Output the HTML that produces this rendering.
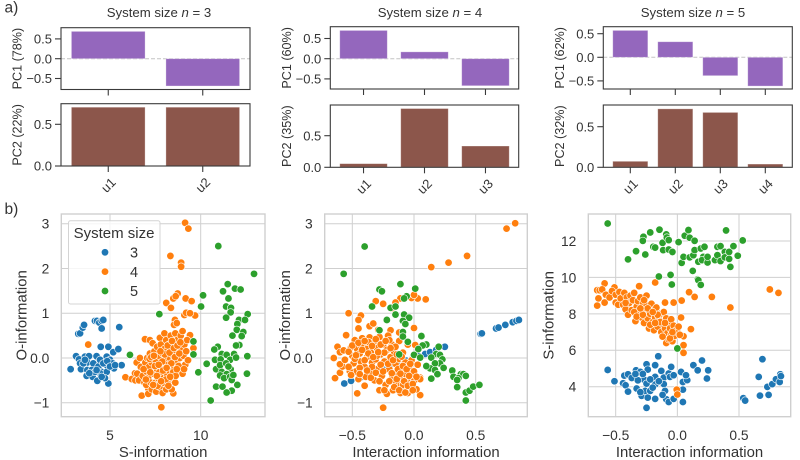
<!DOCTYPE html>
<html>
<head>
<meta charset="utf-8">
<title>System size PCA and information scatter plots</title>
<style>
html,body{margin:0;padding:0;background:#fff;}
#figure{display:block;width:800px;height:460px;font-family:"Liberation Sans",Arial,sans-serif;}
text{fill:#333;font-family:"Liberation Sans",Arial,sans-serif;}
</style>
</head>
<body>
<svg id="figure" xmlns="http://www.w3.org/2000/svg" width="800" height="460" viewBox="0 0 800 460"></svg>
<script>
// ---------- Bar chart data ----------
const n3Units = ["u1", "u2"];
const n3PC1 = [0.69, -0.69];
const n3PC2 = [0.705, 0.705];
const n4Units = ["u1", "u2", "u3"];
const n4PC1 = [0.70, 0.17, -0.67];
const n4PC2 = [0.058, 0.93, 0.337];
const n5Units = ["u1", "u2", "u3", "u4"];
const n5PC1 = [0.57, 0.33, -0.39, -0.61];
const n5PC2 = [0.074, 0.72, 0.676, 0.04];
const pc1TickValues = [-0.5, 0, 0.5];
const n3PC2Ticks = [0, 0.5];
const n4PC2Ticks = [0, 0.5];
const n5PC2Ticks = [0, 0.5];

// ---------- Scatter data: [x, y] ----------
const sTicks = [5, 10];
const oTicks = [-1, 0, 1, 2, 3];
const iTicks = [-0.5, 0, 0.5];
const siTicks = [4, 6, 8, 10, 12];
const legendSizes = [3, 4, 5];

const soBlue = [[3.25,.54],[3.35,.55],[3.5,.68],[3.57,.74],[4.17,.83],[4.28,.83],[4.41,.79],[4.54,.83],[4.63,.85],[4.54,.66],[5.51,.69],[2.83,-.25],[3.13,.04],[3.29,-.03],[3.35,-.12],[3.4,-.25],[3.62,.03],[3.75,-.1],[3.75,-.27],[3.71,-.4],[3.84,.04],[4.04,-.42],[4.08,-.12],[4.26,.04],[4.3,-.51],[4.36,-.19],[4.45,-.04],[4.49,.25],[4.54,-.31],[4.63,-.38],[4.82,.03],[4.91,.25],[4.82,-.31],[4.91,-.57],[4.82,-.16],[5.18,.13],[5.22,-.23],[5.46,.2],[5.64,-.16],[4.45,-.34],[3.99,-.27],[4.17,-.31],[5,-.04],[4.63,-.12],[5.15,-.12],[4.85,-.07],[4.26,-.27],[3.53,-.12],[3.86,-.34],[5,-.19],[4.72,-.45],[4.54,-.42],[3.62,-.04],[5.28,-.16]];
const soOrange = [[3.8,.3],[9.14,3.02],[9.32,2.89],[8.33,2.28],[8.92,2.13],[8.92,2.04],[8.1,1.23],[8.49,1.33],[8.36,1.12],[8.73,1.44],[8.62,1.38],[9.17,1.33],[9.5,1.27],[9.1,.96],[9.2,1.01],[9.69,.95],[9.41,1],[8.58,.85],[8.53,.74],[8.68,.78],[9.41,.51],[9.6,.22],[5.85,-.43],[6.2,-.47],[6.38,-.34],[6.47,-.1],[6.65,0],[6.75,-.84],[6.93,.42],[7.2,.4],[7.83,-1.1],[8.49,-.79],[7.7,-.72],[7.11,-.68],[7.11,-.8],[6.4,-.5],[6.5,-.35],[6.6,-.5],[6.7,-.2],[6.8,-.4],[6.9,-.55],[6.95,-.1],[7,-.3],[7,-.6],[7.05,0],[7.1,-.45],[7.15,-.2],[7.2,.1],[7.25,-.55],[7.3,-.7],[7.3,-.1],[7.35,.33],[7.4,-.35],[7.45,.15],[7.5,-.55],[7.5,-.05],[7.55,-.75],[7.6,-.25],[7.6,.25],[7.65,-.45],[7.7,.05],[7.75,-.65],[7.75,.45],[7.8,-.15],[7.8,.3],[7.85,-.4],[7.9,.1],[7.9,-.78],[7.95,-.55],[8,-.25],[8,.2],[8,.55],[8.05,-.05],[8.1,-.7],[8.1,.4],[8.15,-.4],[8.15,.15],[8.2,-.15],[8.25,.3],[8.25,-.55],[8.3,0],[8.3,-.3],[8.35,.5],[8.4,.2],[8.4,-.7],[8.45,-.45],[8.5,.05],[8.5,.35],[8.55,-.2],[8.6,.55],[8.6,-.55],[8.65,.15],[8.7,-.1],[8.7,.4],[8.75,-.35],[8.8,.25],[8.85,0],[8.9,.5],[8.9,-.2],[8.95,.2],[9,-.35],[9,.6],[9.05,.05],[9.1,.3],[9.15,-.15],[9.2,.15],[9.25,.4],[9.3,-.05],[7.22,-.32],[7.48,-.18],[7.62,-.62],[7.72,-.32],[7.88,-.08],[7.92,-.28],[8.02,.08],[8.08,-.48],[8.18,.28],[8.22,-.62],[8.28,.12],[8.38,-.12],[8.42,.38],[8.48,-.32],[8.52,.22],[8.58,.02],[8.62,-.4],[8.72,.28],[8.78,-.18],[8.82,.1],[8.88,.35],[6.85,-.25],[6.98,-.48],[7.18,-.02],[7.28,.02],[7.38,-.6],[7.42,.05],[7.58,-.4],[7.68,-.15],[7.78,.15],[7.82,-.52],[8.12,-.22],[8.32,-.42],[8.68,-.25],[9.08,-.25]];
const soGreen = [[10.97,2.5],[12.94,1.88],[11.49,1.65],[11.89,1.55],[12.2,1.53],[11.23,1.49],[11.53,1.33],[10.13,1.4],[10.02,1.15],[7.72,.98],[11.4,1.15],[11.67,1.12],[11.65,1.02],[11.4,.9],[12.59,.98],[12.11,.85],[12.44,.85],[12.02,.76],[11.99,.63],[12.35,.58],[11.75,.5],[12.26,.49],[12.13,.29],[11.95,.28],[9.6,.37],[10.94,.25],[10.75,.19],[9.6,.08],[6.1,.07],[12.57,.04],[11.84,.09],[10.33,-.13],[10.79,-.04],[11.16,.09],[11.43,.07],[11.1,-.03],[11.62,-.04],[11.95,.01],[9.87,-.32],[10.85,-.25],[11.07,-.16],[11.4,-.12],[11.65,-.25],[11.16,-.31],[11.43,-.36],[11.07,-.39],[11.29,-.45],[11.62,-.42],[11.71,-.49],[12.55,-.35],[10.85,-.64],[11.2,-.64],[12.02,-.6],[11.71,-.73],[11.43,-.77],[10.55,-.95],[11.53,-.19],[11.8,-.38]];

const ioBlue = [[-.565,-.57],[-.51,-.51],[-.42,-.42],[-.38,-.4],[-.34,-.36],[-.3,-.31],[-.25,-.26],[-.2,-.2],[-.12,-.12],[-.06,-.06],[-.02,-.03],[.04,.04],[.09,.09],[.13,.13],[.18,.18],[.25,.25],[.54,.54],[.55,.55],[.665,.66],[.685,.68],[.74,.74],[.8,.8],[.83,.83],[.85,.85]];
const ioOrange = [[.82,3.01],[.75,2.89],[.43,2.28],[.28,2.13],[.14,2.03],[.095,1.31],[.03,1.33],[-.02,1.34],[0,1.41],[-.11,1.33],[-.15,1.24],[-.25,1.21],[-.31,1.27],[-.18,1.11],[-.53,1],[-.43,.95],[-.45,.85],[-.45,.66],[-.36,.71],[-.33,.77],[-.29,.63],[-.19,.62],[-.12,.57],[0,.67],[-.55,.51],[-.62,.25],[-.65,0],[-.64,-.45],[-.6,-.33],[-.58,-.19],[-.46,-.79],[-.25,-1.11],[.05,-.83],[.1,-.18],[-.6,.13],[-.57,.17],[-.6,-.14],[-.51,.24],[-.5,.05],[-.49,-.12],[-.48,.4],[-.47,-.3],[-.46,.2],[-.45,-.47],[-.44,.1],[-.43,-.08],[-.42,.44],[-.41,.3],[-.4,-.2],[-.4,-.62],[-.38,.02],[-.38,.2],[-.36,-.33],[-.36,.46],[-.35,.12],[-.34,-.1],[-.33,.34],[-.32,-.5],[-.31,-.03],[-.3,.22],[-.29,-.24],[-.28,.47],[-.28,-.72],[-.27,.08],[-.26,-.4],[-.25,.3],[-.24,-.08],[-.23,-.6],[-.22,.18],[-.22,-.8],[-.21,.5],[-.2,-.25],[-.19,.02],[-.18,-.46],[-.18,.3],[-.17,-.72],[-.16,.14],[-.15,-.13],[-.14,-.35],[-.13,-.6],[-.12,.38],[-.12,-.02],[-.11,-.78],[-.1,-.25],[-.1,-.47],[-.09,.12],[-.08,-.12],[-.08,-.68],[-.07,-.36],[-.06,-.55],[-.05,.3],[-.05,-.78],[-.04,-.24],[-.03,-.44],[-.02,-.66],[-.02,-.05],[0,-.3],[0,-.52],[.01,.29],[.02,-.7],[.03,-.15],[.05,-.44],[.05,-.47],[-.44,-.22],[-.37,.36],[-.34,-.2],[-.3,.05],[-.27,-.15],[-.24,.12],[-.2,.4],[-.16,-.55],[-.13,-.25],[-.09,-.6],[-.15,.25],[-.52,-.3],[-.48,-.02],[-.43,.28],[-.39,-.42],[-.07,-.1],[-.53,.14],[-.5,.28],[-.47,.06],[-.45,.34],[-.44,-.36],[-.42,.18],[-.4,.38],[-.4,-.05],[-.38,-.28],[-.37,.1],[-.35,-.44],[-.34,.27],[-.33,.02],[-.31,.42],[-.31,-.33],[-.29,.13],[-.28,-.52],[-.27,.3],[-.25,-.3],[-.24,-.72],[-.23,.38],[-.21,-.13],[-.2,-.52],[-.19,.22],[-.18,-.34],[-.17,-.05],[-.16,-.65],[-.14,.08],[-.14,-.47],[-.12,-.72],[-.11,-.35],[-.1,.03],[-.09,-.18],[-.08,-.52],[-.07,-.77],[-.06,-.25],[-.05,-.62],[-.04,-.4],[-.03,-.13],[-.01,-.58],[-.01,-.72],[.02,-.42],[-.56,-.04],[-.53,-.2],[-.51,-.38]];
const ioGreen = [[-.4,2.49],[-.57,1.88],[-.11,1.65],[.01,1.55],[-.28,1.53],[-.26,1.49],[-.06,1.38],[-.08,1.33],[-.34,1.15],[-.19,1.12],[-.15,1.15],[-.15,.97],[-.22,.85],[-.08,.97],[-.04,.9],[-.09,.83],[-.07,.76],[-.28,.62],[-.09,.58],[-.09,.48],[-.05,.36],[.06,.49],[.1,.3],[.07,.28],[.035,.2],[.2,.25],[-.12,.08],[0,.07],[.05,.01],[.18,.09],[.21,.07],[.14,.01],[.23,-.03],[.21,-.12],[.17,-.12],[.24,-.22],[.13,-.23],[.17,-.27],[.19,-.36],[.14,-.46],[.31,-.28],[.32,-.42],[.38,-.36],[.4,-.36],[.42,-.4],[.36,-.45],[.35,-.49],[.35,-.65],[.42,-.77],[.45,-.73],[.48,-.64],[.53,-.6],[.42,-.95],[.1,-.18]];

const isBlue = [[-.565,4.92],[-.51,4.3],[-.43,4.61],[-.4,4.68],[-.44,4.19],[-.42,4.08],[-.4,3.73],[-.37,4.48],[-.33,3.9],[-.335,4.9],[-.3,4.81],[-.29,3.5],[-.25,5.23],[-.24,4.94],[-.27,4.39],[-.26,3.77],[-.24,3.4],[-.25,2.84],[-.22,3.77],[-.25,4.17],[-.18,5.18],[-.18,4.54],[-.18,4.12],[-.18,3.33],[-.155,5.67],[-.13,4.87],[-.11,4.5],[-.11,4.14],[-.1,3.77],[-.09,3.31],[-.07,4.72],[-.06,4.54],[-.05,5.09],[-.07,3.16],[-.03,4.63],[-.03,3.33],[.03,4.81],[.045,3.16],[.045,3.84],[.045,4.26],[.08,4.36],[.07,4.63],[.13,5.18],[.165,4.9],[.2,5.44],[.25,4.9],[.24,4.45],[.535,3.37],[.55,3.24],[.69,5.51],[.66,4.54],[.67,3.51],[.73,3.99],[.74,3.55],[.77,4.14],[.8,4.41],[.83,4.26],[.835,4.68],[.84,4.58],[-.32,4.35],[-.3,3.7],[-.28,4.7],[-.22,4.4],[-.2,3.95],[-.34,4.7],[-.15,4.3],[-.12,3.55]];
const isOrange = [[.75,9.34],[.82,9.15],[.43,8.35],[.28,8.93],[.14,8.93],[.095,9.19],[.035,8.73],[-.03,8.62],[-.1,8.62],[-.18,9.72],[.11,7.16],[.05,6.77],[.05,6.28],[.05,5.86],[.03,7.8],[-.005,3.84],[0,3.57],[-.59,9.67],[-.31,9.52],[-.51,9.45],[-.65,9.3],[-.63,9.3],[-.61,9.34],[-.64,8.85],[-.65,8.45],[-.59,8.62],[-.58,9.05],[-.55,8.9],[-.53,9.25],[-.5,8.62],[-.5,9.05],[-.48,8.5],[-.47,9.2],[-.46,8.85],[-.44,8.5],[-.43,9.15],[-.42,8.25],[-.41,8.9],[-.4,7.95],[-.39,8.6],[-.38,9.0],[-.37,8.2],[-.36,8.75],[-.35,9.15],[-.34,7.6],[-.33,8.4],[-.32,8.7],[-.31,8.0],[-.3,8.9],[-.29,7.8],[-.29,8.25],[-.28,8.6],[-.27,7.5],[-.26,8.1],[-.25,9.0],[-.25,8.45],[-.24,7.75],[-.23,7.2],[-.22,8.0],[-.21,8.55],[-.2,7.55],[-.19,7.1],[-.19,8.2],[-.18,7.8],[-.17,8.35],[-.16,7.3],[-.15,7.7],[-.14,8.0],[-.13,7.0],[-.12,7.45],[-.11,8.1],[-.1,7.2],[-.09,7.75],[-.09,6.4],[-.08,6.95],[-.07,7.5],[-.07,6.6],[-.06,7.2],[-.05,7.7],[-.05,6.85],[-.04,6.5],[-.03,7.35],[-.02,7.05],[-.02,6.8],[.0,7.0],[.01,7.3],[.02,6.85],[-.35,8.1],[-.27,8.75],[-.22,7.4],[-.16,7.95],[-.12,6.75],[-.42,8.6],[-.33,7.85],[-.24,8.3],[-.14,7.55],[-.06,6.65],[-.04,7.0],[-.2,8.1],[-.28,7.95],[-.1,7.5],[-.3,8.3],[-.18,7.5]];
const isGreen = [[-.565,12.96],[-.4,10.99],[-.335,11.44],[-.26,11.26],[-.275,12.23],[-.28,12.01],[-.22,12.47],[-.145,12.62],[-.195,11.68],[-.18,11.64],[-.12,11.9],[-.09,12.36],[-.085,12.19],[-.07,12.05],[-.115,11.5],[-.07,11.53],[-.04,11.4],[.01,11.94],[.06,12.29],[.09,12.6],[.1,12.18],[.14,12.01],[.035,10.8],[.05,11.13],[.1,11.1],[.13,11.22],[.14,11.5],[.125,10.36],[.19,11.59],[.22,11.68],[.21,11.13],[.17,10.86],[.2,10.95],[.245,10.82],[.245,11.13],[.305,10.95],[.325,11.22],[.325,11.68],[.35,11.72],[.35,10.9],[.385,11.4],[.385,11.1],[.42,11.4],[.42,11.02],[.43,10.58],[.455,11.72],[.395,12.58],[.49,11.19],[.53,12.03],[-.15,10.05],[-.055,10.14],[-.045,9.61],[.165,9.9],[.17,9.85],[.19,9.59],[0,6.1]];

// ---------- Helpers ----------
const svgNS = "http://www.w3.org/2000/svg";
const root = document.getElementById("figure");
const colBlue = "#1f77b4", colOrange = "#ff7f0e", colGreen = "#2ca02c";
const colPurple = "#9467bd", colBrown = "#8c564b";

function linear(d0, d1, r0, r1) {
  return function (v) { return r0 + (v - d0) * (r1 - r0) / (d1 - d0); };
}
function make(parent, tag, attrs, content) {
  const el = document.createElementNS(svgNS, tag);
  for (const k in attrs) el.setAttribute(k, attrs[k]);
  if (content !== undefined) el.textContent = content;
  parent.appendChild(el);
  return el;
}
function fmt(v) {
  const s = Number.isInteger(v) && Math.abs(v) >= 1 ? String(Math.abs(v)) : Math.abs(v).toFixed(1);
  return (v < 0 ? "\u2212" : "") + s;
}
function label(parent, name, x, y, size, anchor, str, rotate) {
  const attrs = { x: x, y: y + size * 0.36, "font-size": size, "text-anchor": anchor };
  if (rotate) attrs.transform = "rotate(" + rotate + " " + x + " " + y + ")";
  const t = make(parent, "text", attrs, str);
  
  
  return t;
}

// ---------- Bar axes ----------
function barAxes(opts) {
  const g = make(root, "g", {});
  
  
  const n = opts.values.length;
  const x = linear(-opts.pad, n - 1 + opts.pad, opts.left, opts.right);
  const y = linear(0, 0.5, opts.zero, opts.half);
  const step = x(1) - x(0);
  if (opts.zeroLine) {
    const z = make(g, "line", { x1: opts.left, x2: opts.right, y1: y(0), y2: y(0), stroke: "#c4c4c4", "stroke-width": 1, "stroke-dasharray": "4 2" });
    
    
  }
  opts.values.forEach(function (v, i) {
    const top = Math.min(y(v), y(0));
    const bar = make(g, "rect", {
      x: x(i) - step * 0.39, y: top, width: step * 0.78, height: Math.abs(y(v) - y(0)),
      fill: opts.color, stroke: "#fff", "stroke-opacity": 0.4, "stroke-width": 0.8
    });
    
    
  });
  const frame = make(g, "rect", { x: opts.left, y: opts.top, width: opts.right - opts.left, height: opts.bottom - opts.top, fill: "none", stroke: "#3a3a3a", "stroke-width": 1.1 });
  
  
  opts.ticks.forEach(function (t) {
    const tick = make(g, "line", { x1: opts.left - 6, x2: opts.left, y1: y(t), y2: y(t), stroke: "#3a3a3a", "stroke-width": 1.1 });
    
    
    label(g, 'y-tick-label', opts.left - 9, y(t), 13, "end", fmt(t));
  });
  opts.units.forEach(function (u, i) {
    const tick = make(g, "line", { x1: x(i), x2: x(i), y1: opts.bottom, y2: opts.bottom + 6, stroke: "#3a3a3a", "stroke-width": 1.1 });
    
    
    if (opts.showUnits) label(g, 'x-tick-label', x(i), opts.bottom + 19, 13, "middle", u, -45);
  });
  label(g, 'y-axis-title', opts.left - 44, (opts.top + opts.bottom) / 2, 12.6, "middle", opts.title, -90);
}

function barColumn(cfg) {
  barAxes({ name: cfg.name + '-pc1', values: cfg.pc1, units: cfg.units, ticks: pc1TickValues, left: cfg.left, right: cfg.right, pad: cfg.pad, top: cfg.t1, bottom: cfg.b1, zero: cfg.z1, half: cfg.h1, color: colPurple, zeroLine: true, title: cfg.pc1Title, showUnits: false });
  barAxes({ name: cfg.name + '-pc2', values: cfg.pc2, units: cfg.units, ticks: cfg.pc2Ticks, left: cfg.left, right: cfg.right, pad: cfg.pad, top: cfg.t2, bottom: cfg.b2, zero: cfg.z2, half: cfg.h2, color: colBrown, zeroLine: false, title: cfg.pc2Title, showUnits: true });
  const title = make(root, "text", { x: cfg.titleX, y: 17, "font-size": 13.2, "text-anchor": "middle" });
  
  
  make(title, "tspan", {}, "System size ");
  make(title, "tspan", { "font-style": "italic" }, "n");
  make(title, "tspan", {}, " = " + cfg.size);
}

barColumn({ name: 'n3', size: 3, pc1: n3PC1, pc2: n3PC2, units: n3Units, pc2Ticks: n3PC2Ticks, left: 61, right: 250, pad: 0.5, t1: 27.7, b1: 89.5, z1: 58.7, h1: 38.9, t2: 103.7, b2: 166, z2: 166, h2: 124.3, pc1Title: "PC1 (78%)", pc2Title: "PC2 (22%)", titleX: 159 });
barColumn({ name: 'n4', size: 4, pc1: n4PC1, pc2: n4PC2, units: n4Units, pc2Ticks: n4PC2Ticks, left: 330.3, right: 518.7, pad: 0.545, t1: 26.7, b1: 89, z1: 58.7, h1: 38.5, t2: 105, b2: 167.3, z2: 167.3, h2: 135.7, pc1Title: "PC1 (60%)", pc2Title: "PC2 (35%)", titleX: 430 });
barColumn({ name: 'n5', size: 5, pc1: n5PC1, pc2: n5PC2, units: n5Units, pc2Ticks: n5PC2Ticks, left: 603.3, right: 792.3, pad: 0.6, t1: 26.7, b1: 89, z1: 57.3, h1: 33.7, t2: 105, b2: 167.3, z2: 167.3, h2: 126.7, pc1Title: "PC1 (62%)", pc2Title: "PC2 (32%)", titleX: 693 });

// ---------- Scatter axes ----------
function scatterAxes(opts) {
  const g = make(root, "g", {});
  
  
  const top = 214, bottom = 416.7;
  const x = linear(opts.xd[0], opts.xd[1], opts.xr[0], opts.xr[1]);
  const y = linear(opts.yd[0], opts.yd[1], opts.yr[0], opts.yr[1]);
  opts.xTicks.forEach(function (t) {
    const gl = make(g, "line", { x1: x(t), x2: x(t), y1: top, y2: bottom, stroke: "#cfcfcf", "stroke-width": 1 });
    
    
    label(g, 'x-tick-label', x(t), 435, 13.8, "middle", fmt(t));
  });
  opts.yTicks.forEach(function (t) {
    const gl = make(g, "line", { x1: opts.left, x2: opts.right, y1: y(t), y2: y(t), stroke: "#cfcfcf", "stroke-width": 1 });
    
    
    label(g, 'y-tick-label', opts.left - 12, y(t), 13.8, "end", fmt(t));
  });
  const frame = make(g, "rect", { x: opts.left, y: top, width: opts.right - opts.left, height: bottom - top, fill: "none", stroke: "#cfcfcf", "stroke-width": 1.4 });
  
  
  [[opts.blue, colBlue, 'size-3'], [opts.orange, colOrange, 'size-4'], [opts.green, colGreen, 'size-5']].forEach(function (s) {
    const sg = make(g, "g", {});
    
    
    s[0].forEach(function (p) {
      const c = make(sg, "circle", { cx: x(p[0]), cy: y(p[1]), r: 3.7, fill: s[1], stroke: "#fff", "stroke-width": 0.6 });
      
      
    });
  });
  label(g, 'x-axis-title', (opts.left + opts.right) / 2, 451.7, 14.9, "middle", opts.xTitle);
  label(g, 'y-axis-title', opts.left - 40, (top + bottom) / 2, 14.9, "middle", opts.yTitle, -90);
}

scatterAxes({ name: 'scatter-s-vs-o', left: 61.3, right: 265, xd: [5, 10], xr: [110, 200.7], yd: [0, 3], yr: [358, 223.7], xTicks: sTicks, yTicks: oTicks, blue: soBlue, orange: soOrange, green: soGreen, xTitle: "S-information", yTitle: "O-information" });
scatterAxes({ name: 'scatter-i-vs-o', left: 324.7, right: 527.3, xd: [-0.5, 0.5], xr: [352.3, 475.7], yd: [0, 3], yr: [358, 223.7], xTicks: iTicks, yTicks: oTicks, blue: ioBlue, orange: ioOrange, green: ioGreen, xTitle: "Interaction information", yTitle: "O-information" });
scatterAxes({ name: 'scatter-i-vs-s', left: 588.3, right: 790.7, xd: [-0.5, 0.5], xr: [615.7, 739], yd: [4, 12], yr: [386.7, 241], xTicks: iTicks, yTicks: siTicks, blue: isBlue, orange: isOrange, green: isGreen, xTitle: "Interaction information", yTitle: "S-information" });

// ---------- Legend ----------
const legend = make(root, "g", {});


const legendBox = make(legend, "rect", { x: 68.5, y: 220.8, width: 91.5, height: 83.2, rx: 2, fill: "#fff", "fill-opacity": 0.8, stroke: "#d4d4d4", "stroke-width": 1 });


label(legend, 'legend-title', 114, 232.5, 15, "middle", "System size");
const legendColors = [colBlue, colOrange, colGreen];
legendSizes.forEach(function (s, i) {
  const ly = 252.3 + i * 19.35;
  const dot = make(legend, "circle", { cx: 105, cy: ly, r: 3.7, fill: legendColors[i], stroke: "#fff", "stroke-width": 0.6 });
  
  
  label(legend, 'legend-entry', 130, ly, 14.5, "start", String(s));
});

// ---------- Panel letters ----------
const panelA = make(root, "text", { x: 4.5, y: 12.5, "font-size": 15.5 }, "a)");


const panelB = make(root, "text", { x: 4.5, y: 214, "font-size": 15.5 }, "b)");


</script>
</body>
</html>
